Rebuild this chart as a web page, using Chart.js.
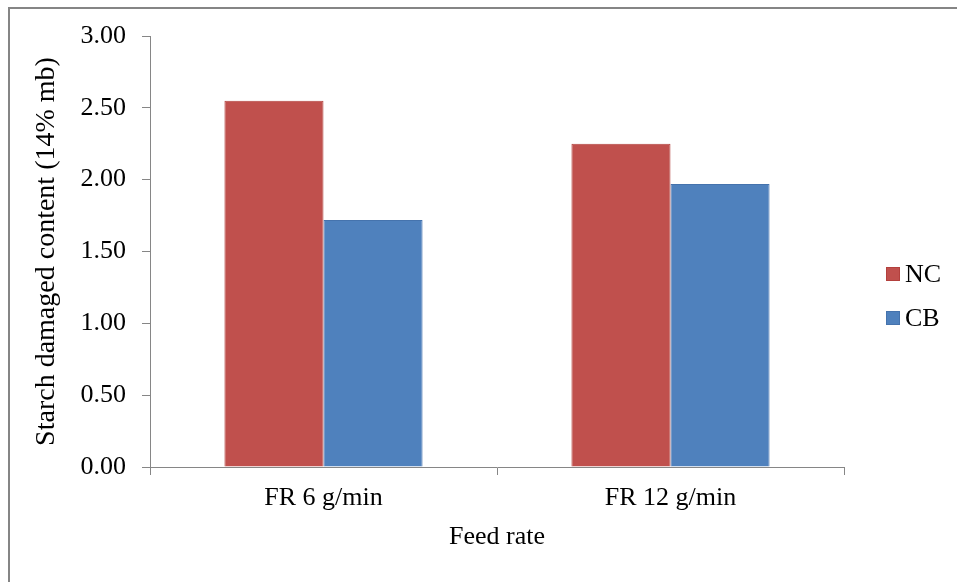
<!DOCTYPE html>
<html>
<head>
<meta charset="utf-8">
<script src="https://cdn.jsdelivr.net/npm/chart.js@4"></script>
<style>
  html, body { margin: 0; padding: 0; background: #ffffff; }
  #wrap { position: relative; width: 957px; height: 582px; }
  canvas { display: block; }
</style>
</head>
<body>
<div id="wrap"><canvas id="chart" width="957" height="582"></canvas></div>
<script>
// Starch damage by feed rate, two treatments
const categories = ['FR 6 g/min', 'FR 12 g/min'];
const seriesNames = ['NC', 'CB'];
const ncValues = [2.55, 2.25];
const cbValues = [1.72, 1.97];
const yTicks = [0, 0.5, 1.0, 1.5, 2.0, 2.5, 3.0];

const FONT = 'Liberation Serif, "Times New Roman", serif';
const AXIS_GREY = '#868686';
const fills = ['#C0504D', '#4F81BD'];
const edges = ['#B3403D', '#4573AD'];

// outer frame (left and top edges) around the chart
const framePlugin = {
  id: 'frame',
  beforeDraw(chart) {
    const ctx = chart.ctx;
    ctx.save();
    ctx.fillStyle = '#ffffff';
    ctx.fillRect(0, 0, chart.width, chart.height);
    ctx.strokeStyle = '#858585';
    ctx.lineWidth = 2;
    ctx.beginPath();
    ctx.moveTo(9, chart.height);
    ctx.lineTo(9, 8);
    ctx.lineTo(chart.width, 8);
    ctx.stroke();
    ctx.restore();
  }
};

// legend drawn from the datasets, stacked at the right of the plot
const sideLegend = {
  id: 'sideLegend',
  afterDraw(chart) {
    const ctx = chart.ctx;
    const ds = chart.data.datasets;
    const x0 = 886, yStart = 274, step = 44, box = 14;
    ctx.save();
    ctx.font = '26px ' + FONT;
    ctx.textBaseline = 'middle';
    ctx.textAlign = 'left';
    ds.forEach((d, i) => {
      const cy = yStart + i * step;
      ctx.fillStyle = d.backgroundColor;
      ctx.fillRect(x0, cy - box / 2, box, box);
      ctx.strokeStyle = d.borderColor;
      ctx.lineWidth = 1;
      ctx.strokeRect(x0 + 0.5, cy - box / 2 + 0.5, box - 1, box - 1);
      ctx.fillStyle = '#000000';
      ctx.fillText(d.label, x0 + 19, cy + 1);
    });
    ctx.restore();
  }
};

new Chart(document.getElementById('chart'), {
  type: 'bar',
  data: {
    labels: categories,
    datasets: [
      { label: seriesNames[0], data: ncValues, backgroundColor: fills[0], borderColor: edges[0], borderWidth: 1 },
      { label: seriesNames[1], data: cbValues, backgroundColor: fills[1], borderColor: edges[1], borderWidth: 1 }
    ]
  },
  options: {
    responsive: false,
    animation: false,
    devicePixelRatio: 1,
    categoryPercentage: 0.571,
    barPercentage: 1.0,
    layout: { padding: { left: 0, right: 113, top: 36, bottom: 15 } },
    plugins: {
      legend: { display: false },
      tooltip: { enabled: false }
    },
    scales: {
      x: {
        afterFit(scale) { scale.height = 100; },
        grid: { drawOnChartArea: false, drawTicks: true, tickLength: 8, color: AXIS_GREY, offset: true },
        border: { display: true, color: AXIS_GREY, width: 1 },
        ticks: { color: '#000000', font: { family: FONT, size: 26 }, padding: 8 },
        title: { display: true, text: 'Feed rate', color: '#000000', font: { family: FONT, size: 26 }, padding: { top: 0, bottom: 14 } }
      },
      y: {
        min: 0,
        max: 3,
        afterFit(scale) { scale.width = 150; },
        afterBuildTicks(scale) { scale.ticks = yTicks.map(v => ({ value: v })); },
        grid: { drawOnChartArea: false, drawTicks: true, tickLength: 8, color: AXIS_GREY },
        border: { display: true, color: AXIS_GREY, width: 1 },
        ticks: {
          color: '#000000',
          font: { family: FONT, size: 26 },
          padding: 16,
          callback: v => Number(v).toFixed(2)
        },
        title: { display: true, text: 'Starch damaged content (14% mb)', color: '#000000', font: { family: FONT, size: 28 }, padding: { top: 30, bottom: 0 } }
      }
    }
  },
  plugins: [framePlugin, sideLegend]
});
</script>
</body>
</html>
